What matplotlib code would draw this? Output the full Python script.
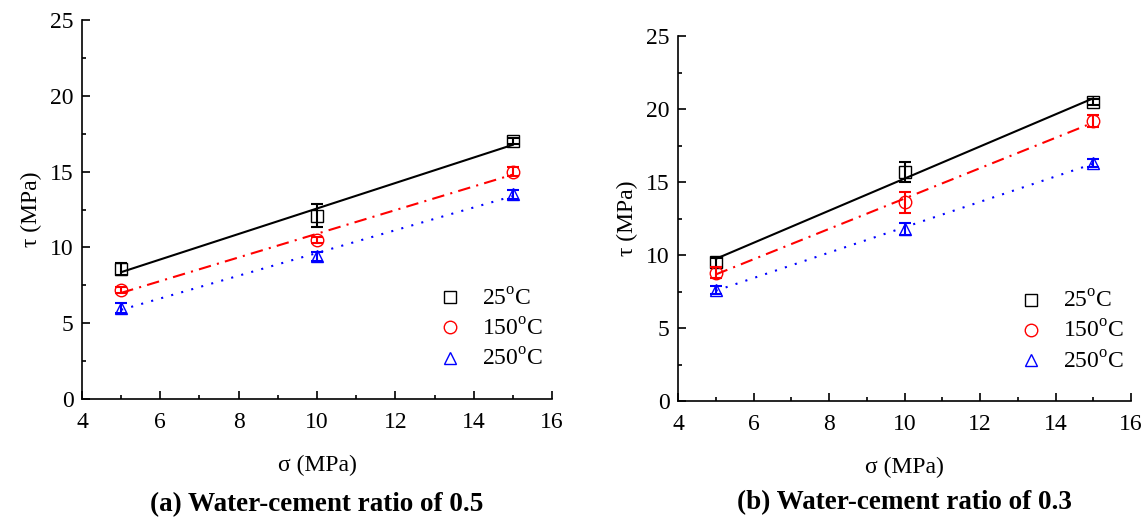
import matplotlib
matplotlib.use("Agg")
import matplotlib.pyplot as plt
import numpy as np
from matplotlib.ticker import MultipleLocator

plt.rcParams["font.family"] = ["Liberation Serif", "DejaVu Serif"]
plt.rcParams["mathtext.fontset"] = "custom"
plt.rcParams["mathtext.rm"] = "Liberation Serif"

# normal stress levels (MPa)
sigma = [5, 10, 15]
labels = ["25$^\\mathrm{o}$C", "150$^\\mathrm{o}$C", "250$^\\mathrm{o}$C"]

# w/c = 0.5 : shear strength and scatter
tau_a_25 = [8.6, 12.1, 17.0]
err_a_25 = [0.4, 0.75, 0.2]
tau_a_150 = [7.2, 10.5, 15.0]
err_a_150 = [0.2, 0.2, 0.3]
tau_a_250 = [6.0, 9.4, 13.5]
err_a_250 = [0.3, 0.3, 0.3]

# w/c = 0.3
tau_b_25 = [9.5, 15.7, 20.5]
err_b_25 = [0.3, 0.7, 0.2]
tau_b_150 = [8.8, 13.6, 19.2]
err_b_150 = [0.4, 0.7, 0.4]
tau_b_250 = [7.6, 11.8, 16.3]
err_b_250 = [0.3, 0.4, 0.3]

styles = [
    dict(color="black", marker="s", ls="-"),
    dict(color="red", marker="o", ls=(0, (6, 3, 1, 3))),
    dict(color="blue", marker="^", ls=(0, (1, 4))),
]


def draw_panel(ax, series, caption, leg_x):
    x = np.array(sigma)
    for (tau, err), st, lab in zip(series, styles, labels):
        ax.errorbar(x, tau, yerr=err, fmt="none", ecolor=st["color"],
                    elinewidth=1.5, capsize=4, capthick=1.5)
        ax.plot(x, tau, ls="none", marker=st["marker"], ms=9,
                mfc="none", mec=st["color"], mew=1.0, label=lab)
        k, b = np.polyfit(x, tau, 1)
        ax.plot(x, k * x + b, color=st["color"], ls=st["ls"], lw=1.5)

    ax.set_xlim(4, 16)
    ax.set_ylim(0, 25)
    ax.xaxis.set_major_locator(MultipleLocator(2))
    ax.xaxis.set_minor_locator(MultipleLocator(1))
    ax.yaxis.set_major_locator(MultipleLocator(5))
    ax.yaxis.set_minor_locator(MultipleLocator(2.5))
    ax.tick_params(which="both", direction="in", labelsize=17, width=1.2)
    ax.tick_params(which="major", length=6)
    ax.tick_params(which="minor", length=3)
    ax.tick_params(axis="x", pad=9)
    ax.tick_params(axis="y", pad=6)
    ax.spines["top"].set_visible(False)
    ax.spines["right"].set_visible(False)
    for s in ("left", "bottom"):
        ax.spines[s].set_linewidth(1.2)
    ax.set_xlabel("σ (MPa)", fontsize=17, labelpad=16)
    ax.set_ylabel("τ (MPa)", fontsize=17, labelpad=6)
    ax.legend(loc="lower right", frameon=False, fontsize=17, markerscale=1.0,
              handlelength=1.0, handletextpad=0.85, labelspacing=0.35,
              borderaxespad=0.3, bbox_to_anchor=(leg_x, 0.03))
    ax.text(0.5, -0.245, caption, transform=ax.transAxes, ha="center",
            va="top", fontsize=19.5, fontweight="bold")


fig = plt.figure(figsize=(11.47, 5.19), dpi=100)
ax1 = fig.add_axes([82 / 1147, 1 - 399 / 519, 470 / 1147, 379 / 519])
ax2 = fig.add_axes([678 / 1147, 1 - 401 / 519, 453 / 1147, 365 / 519])

draw_panel(ax1, [(tau_a_25, err_a_25), (tau_a_150, err_a_150),
                 (tau_a_250, err_a_250)], "(a) Water-cement ratio of 0.5", 1.017)
draw_panel(ax2, [(tau_b_25, err_b_25), (tau_b_150, err_b_150),
                 (tau_b_250, err_b_250)], "(b) Water-cement ratio of 0.3", 1.022)

fig.savefig("out.png", dpi=100)
